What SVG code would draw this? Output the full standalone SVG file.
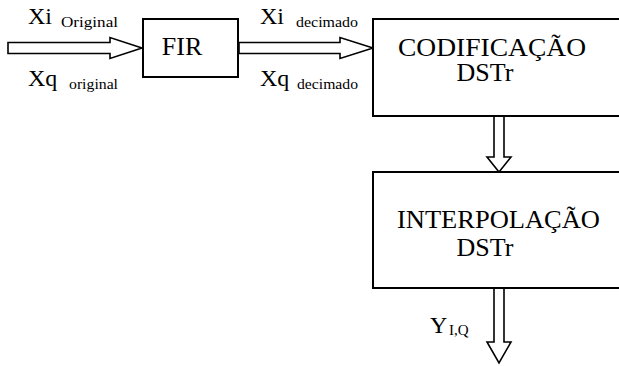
<svg xmlns="http://www.w3.org/2000/svg" width="619" height="366" viewBox="0 0 619 366">
<defs>
<style>
.box{fill:#fff;stroke:#000;stroke-width:2}
.arr{fill:#fff;stroke:#000;stroke-width:1.6;stroke-linejoin:miter}
.t{font-family:'Liberation Serif','Tinos','Times New Roman','DejaVu Serif','Noto Serif',serif}
.big{font-size:24px}
.lbl{font-size:26px}
.sub{font-size:15px}
</style>
</defs>
<rect width="619" height="366" fill="#fff"/>
<g id="connectors">
<polygon class="arr" points="8,42.5 110,42.5 110,37.5 142,48 110,58.5 110,53.5 8,53.5"/>
<polygon class="arr" points="239,42.5 340,42.5 340,37.5 373,48 340,58.5 340,53.5 239,53.5"/>
<polygon class="arr" points="494,116 504,116 504,157 511,157 499,172 487,157 494,157"/>
<polygon class="arr" points="494,288 504,288 504,342 511,342 499,363 487,342 494,342"/>
</g>
<g id="labels" class="t">
<text class="big" x="28" y="24">Xi</text><text class="sub" x="61" y="27" textLength="57" lengthAdjust="spacingAndGlyphs">Original</text>
<text class="big" x="28" y="86">Xq</text><text class="sub" x="69" y="89" textLength="49" lengthAdjust="spacingAndGlyphs">original</text>
<text class="big" x="260" y="24">Xi</text><text class="sub" x="296" y="27" textLength="62" lengthAdjust="spacingAndGlyphs">decimado</text>
<text class="big" x="260" y="86">Xq</text><text class="sub" x="297" y="89" textLength="61" lengthAdjust="spacingAndGlyphs">decimado</text>
<text class="big" x="430" y="333">Y</text><text class="sub" x="449" y="335">I,Q</text>
</g>
<g id="fir" class="t">
<rect class="box" x="143" y="19" width="95" height="58"/>
<text class="lbl" x="182" y="55" text-anchor="middle">FIR</text>
</g>
<g id="codificacao" class="t">
<rect class="box" x="373" y="19" width="270" height="97"/>
<text class="lbl" x="398" y="56" textLength="188" lengthAdjust="spacingAndGlyphs">CODIFICAÇÃO</text>
<text class="lbl" x="485" y="81" text-anchor="middle">DSTr</text>
</g>
<g id="interpolacao" class="t">
<rect class="box" x="373" y="172" width="270" height="116"/>
<text class="lbl" x="397" y="228" textLength="203" lengthAdjust="spacingAndGlyphs">INTERPOLAÇÃO</text>
<text class="lbl" x="485" y="256" text-anchor="middle">DSTr</text>
</g>
</svg>
